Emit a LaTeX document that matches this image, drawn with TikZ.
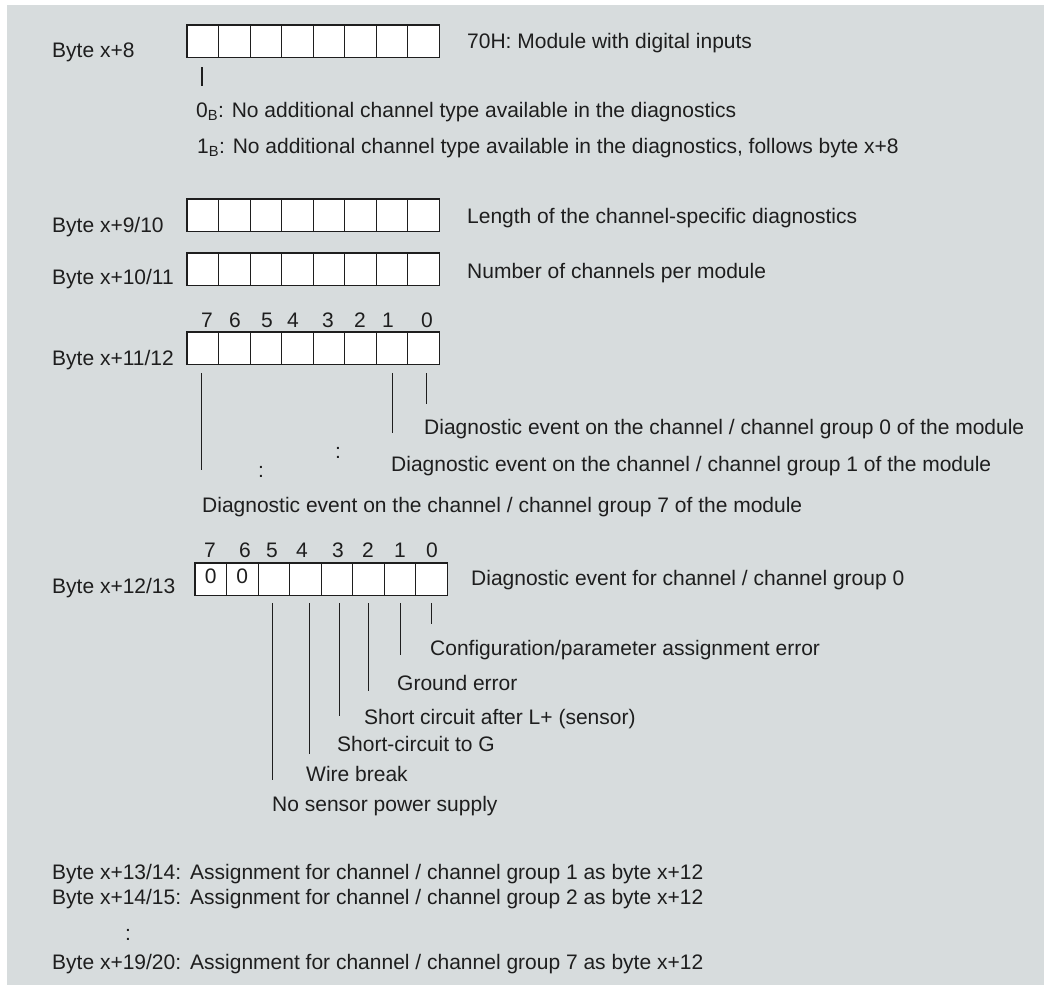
\documentclass[tikz,border=0pt]{standalone}
\usepackage{fontspec}
\setmainfont{Liberation Sans}
\definecolor{panel}{RGB}{215,220,221}
\definecolor{ink}{RGB}{30,30,30}

\begin{document}
\begin{tikzpicture}[
    x=1pt, y=-1pt,
    cell/.style={rectangle, draw=ink, fill=white, line width=0.9pt, minimum width=31.5pt, minimum height=32pt, inner sep=0pt},
    frame/.style={draw=ink, line width=1.4pt},
    txt/.style={anchor=base west, inner sep=0pt, text=ink, font=\fontsize{21pt}{25pt}\selectfont},
    num/.style={txt, anchor=base},
    stem/.style={draw=ink, line width=1.3pt}
  ]
  % Hintergrund
  \useasboundingbox (0,0) rectangle (1044,985);
  \fill[panel] (7,5) rectangle (1044,985);

  % Bytes (Zellen, Bit 7 links)
  \foreach \r/\x/\y in {r1/187/41, r2/187/215, r3/187/269, r4/187/348, r5/195/579} {
    \foreach \b in {0,...,7}
      \node[cell] (\r b\b) at ({\x+(7-\b)*31.5+15.75}, \y) {};
    \draw[frame] (\r b7.north west) rectangle (\r b0.south east);
  }

  % Byte x+8
  \node[txt] (byte8) at (52, 57) {Byte x+8};
  \node[txt] (type) at (467, 48) {70H: Module with digital inputs};
  \draw[stem] ([xshift=-0.75pt, yshift=-10pt]r1b7.south) -- ++(0, 19);
  \node[txt] (nochan) at (196, 117) {0\textsubscript{B}: No additional channel type available in the diagnostics};
  \node[txt] (follows) at (197, 153) {1\textsubscript{B}: No additional channel type available in the diagnostics, follows byte x+8};

  % Byte x+9/10 und x+10/11
  \node[txt] (byte9) at (52, 232) {Byte x+9/10};
  \node[txt] (length) at (467, 223) {Length of the channel-specific diagnostics};
  \node[txt] (byte10) at (52, 284) {Byte x+10/11};
  \node[txt] (count) at (467, 278) {Number of channels per module};

  % Byte x+11/12
  \node[txt] (byte11) at (52, 365) {Byte x+11/12};
  \foreach \b/\x in {7/207, 6/235, 5/267, 4/293, 3/328, 2/360, 1/388, 0/427}
    \node[num] (r4n\b) at (\x, 327) {\b};
  \draw[stem] ([xshift=3.5pt, yshift=-9pt]r4b0.south) -- ++(0, 31);
  \draw[stem] ([xshift=1pt, yshift=-9pt]r4b1.south) -- ++(0, 60);
  \draw[stem] ([xshift=-1.5pt, yshift=-9pt]r4b7.south) -- ++(0, 97);
  \node[txt] (grp0) at (424, 434) {Diagnostic event on the channel / channel group 0 of the module};
  \node[num] (dotsa) at (338, 458) {:};
  \node[txt] (grp1) at (391, 471) {Diagnostic event on the channel / channel group 1 of the module};
  \node[num] (dotsb) at (261, 477) {:};
  \node[txt] (grp7) at (202, 512) {Diagnostic event on the channel / channel group 7 of the module};

  % Byte x+12/13
  \node[txt] (byte12) at (52, 593) {Byte x+12/13};
  \foreach \b/\x in {7/210, 6/245, 5/272, 4/302, 3/338, 2/368, 1/400, 0/432}
    \node[num] (r5n\b) at (\x, 557) {\b};
  \node[num, anchor=center] (zero7) at ([yshift=2.5pt]r5b7.center) {0};
  \node[num, anchor=center] (zero6) at ([yshift=2.5pt]r5b6.center) {0};
  \node[txt] (event) at (471, 585) {Diagnostic event for channel / channel group 0};
  \draw[stem] ([yshift=-8pt]r5b0.south) -- ++(0, 21);
  \draw[stem] ([xshift=1pt, yshift=-8pt]r5b1.south) -- ++(0, 52);
  \draw[stem] ([yshift=-8pt]r5b2.south) -- ++(0, 88);
  \draw[stem] ([xshift=3pt, yshift=-8pt]r5b3.south) -- ++(0, 113);
  \draw[stem] ([xshift=4pt, yshift=-8pt]r5b4.south) -- ++(0, 151);
  \draw[stem] ([xshift=-1pt, yshift=-8pt]r5b5.south) -- ++(0, 177);
  \node[txt] (config) at (430, 655) {Configuration/parameter assignment error};
  \node[txt] (ground) at (397, 690) {Ground error};
  \node[txt] (shortl) at (364, 724) {Short circuit after L+ (sensor)};
  \node[txt] (shortg) at (337, 751) {Short-circuit to G};
  \node[txt] (wire) at (306, 781) {Wire break};
  \node[txt] (power) at (272, 811) {No sensor power supply};

  % weitere Kanaele
  \node[txt] (byte13) at (52, 879) {Byte x+13/14:};
  \node[txt] (assign1) at (190, 879) {Assignment for channel / channel group 1 as byte x+12};
  \node[txt] (byte14) at (52, 904) {Byte x+14/15:};
  \node[txt] (assign2) at (190, 904) {Assignment for channel / channel group 2 as byte x+12};
  \node[num] (dotsc) at (128, 940) {:};
  \node[txt] (byte19) at (52, 969) {Byte x+19/20:};
  \node[txt] (assign7) at (190, 969) {Assignment for channel / channel group 7 as byte x+12};
\end{tikzpicture}
\end{document}
